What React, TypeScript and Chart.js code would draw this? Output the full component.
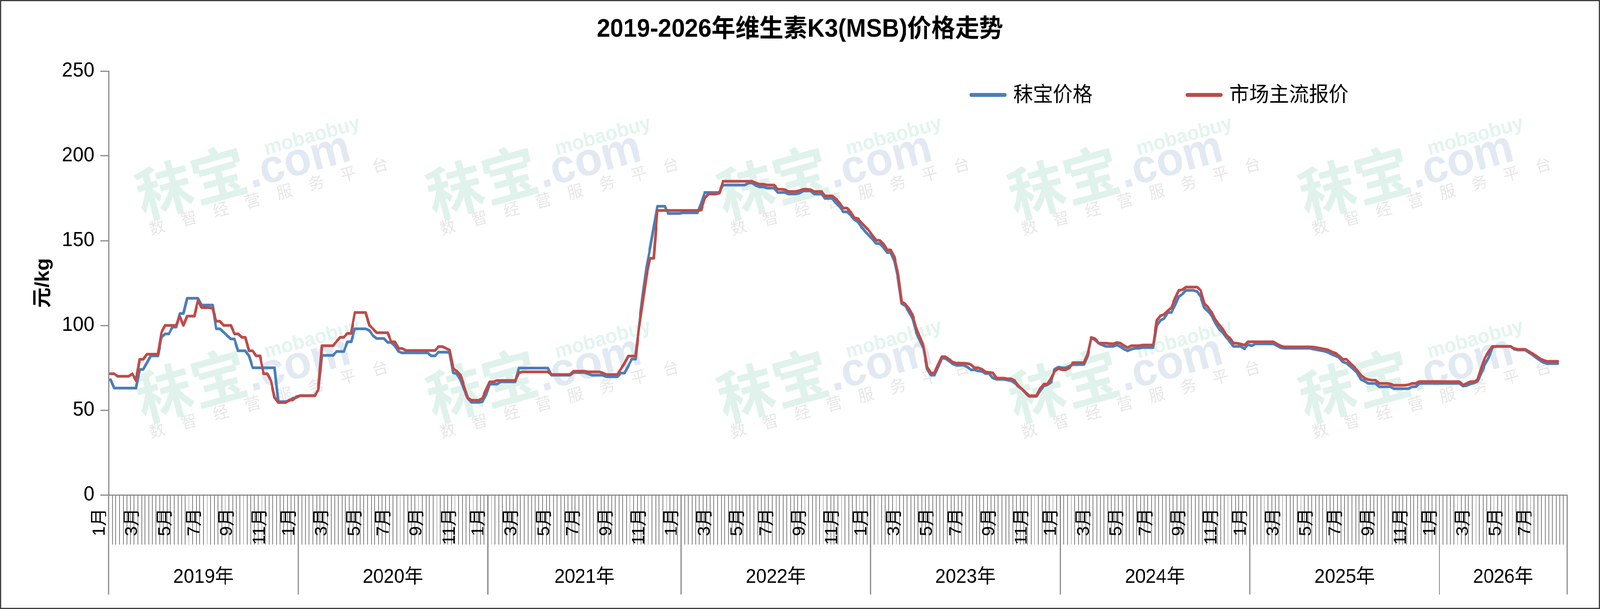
import { useEffect, useRef } from "react";
import { Chart, registerables } from "chart.js";

Chart.register(...registerables);

document.body.style.margin = "0";
document.body.style.overflow = "hidden";

const FONT = "'Liberation Sans', Arial, 'Noto Sans CJK SC', sans-serif";
const AXIS_GRAY = "#8c8c8c";
const HATCH_GRAY = "#7f7f7f";

// the picture is laid out on a 4270 x 1559 page
const PAGE_W = 4270;
const PAGE_H = 1559;
const FRAME = 3;
const CANVAS_W = PAGE_W - 2 * FRAME;
const CANVAS_H = PAGE_H - 2 * FRAME;

const TITLE = "2019-2026年维生素K3(MSB)价格走势";
const Y_TITLE = "元/kg";
const SERIES_NAMES = ["秣宝价格", "市场主流报价"];
const SERIES_COLORS = ["#4a7ebb", "#be4b48"];

const YEARS = [2019, 2020, 2021, 2022, 2023, 2024, 2025, 2026];
// weekly points per year (last year runs to late August)
const WEEKS_PER_YEAR = [52, 52, 53, 52, 52, 52, 52, 35];
const Y_TICKS = [0, 50, 100, 150, 200, 250];

// 秣宝价格 (blue), one value per week
const MOBAO_2019 = [68, 63, 63, 63, 63, 63, 63, 63, 74, 74, 78, 82, 82, 82, 93, 95, 95, 99, 99, 107, 107, 116, 116, 116, 116, 112, 112, 112, 112, 98, 98, 96, 94, 92, 92, 85, 85, 85, 82, 75, 75, 75, 75, 75, 75, 75, 55, 55, 55, 55.5, 57, 57.5];
const MOBAO_2020 = [58.5, 58.5, 58.5, 58.5, 58.5, 62, 82.3, 82.3, 82.3, 82.3, 84.6, 84.6, 84.6, 90.3, 90.3, 98, 98, 98, 98, 97, 94, 92.3, 92.3, 92.3, 90, 90, 88, 84.6, 83.8, 83.8, 83.8, 83.8, 83.8, 83.8, 83.8, 83.8, 82, 82, 84.2, 84.2, 84.2, 84, 72, 71.5, 68, 62, 57, 54.6, 54.6, 54.6, 55, 59];
const MOBAO_2021 = [65.4, 65.4, 65.4, 66.7, 66.7, 66.7, 66.7, 66.7, 74.8, 74.8, 74.8, 74.8, 74.8, 74.8, 74.8, 74.8, 74.8, 70.6, 70.6, 70.6, 70.6, 70.6, 70.6, 72.2, 72.2, 72.2, 72.2, 71.5, 70.6, 70.6, 70.6, 70.6, 69.7, 69.7, 69.7, 69.7, 71.9, 71.9, 76, 80.1, 80.1, 100, 118, 134, 145.5, 158, 170.3, 170.3, 170.3, 166, 166, 166, 166];
const MOBAO_2022 = [166.4, 166.4, 166.4, 166.4, 166.4, 172, 178.4, 178.4, 178.4, 178.4, 178.4, 182.8, 182.8, 182.8, 182.8, 182.8, 182.8, 182.8, 184, 184, 182.5, 181.7, 181.7, 181, 181, 181, 178.4, 178.4, 178.4, 177.5, 177.5, 177.5, 178, 179.3, 179.3, 179.3, 177.5, 177.5, 177.5, 174.9, 174.9, 174.9, 172.2, 170, 167, 167, 165, 162.5, 161, 158, 155.4, 153];
const MOBAO_2023 = [151, 148.3, 148.3, 146, 143, 142.9, 138, 128, 112.9, 111.5, 108, 104, 96, 91, 86.5, 74.2, 70.7, 70.7, 75.5, 80.7, 80.5, 79, 77.3, 76.5, 76.5, 76.5, 75.5, 73.8, 73.8, 73.1, 73, 71.6, 71.6, 69, 68.2, 68.2, 68.2, 67.8, 67.4, 66, 64, 62.4, 60, 58.1, 58.1, 58.1, 61.5, 64.2, 65, 66.5, 74.2, 75.4];
const MOBAO_2024 = [75, 75, 76, 76.9, 76.9, 76.9, 76.9, 82, 92.5, 91.5, 89.5, 88.5, 87.6, 87.6, 87.6, 88.5, 87.5, 86, 85, 86, 86.5, 86.5, 86.9, 86.9, 86.9, 86.9, 100, 103, 104.1, 107.6, 107.6, 112, 117, 118.4, 120.7, 120.7, 120.7, 120, 117, 110.5, 108.3, 106, 101.5, 98, 96, 93, 90.5, 87.6, 87.6, 87.6, 86.2, 88.7];
const MOBAO_2025 = [88, 89.1, 89.1, 89.1, 89.1, 89.1, 89.1, 88, 86.8, 86.5, 86.5, 86.5, 86.5, 86.5, 86.5, 86.5, 86.5, 86, 85.6, 85.2, 84.8, 84, 83, 82, 81, 78.5, 77.7, 76, 74, 71.9, 68.1, 67, 65.8, 65.8, 65.8, 63.8, 63.8, 63.8, 63.8, 62.7, 62.7, 62.7, 62.7, 62.7, 63.8, 63.8, 65.8, 65.8, 65.8, 65.8, 65.8, 65.8];
const MOBAO_2026 = [65.8, 65.8, 65.8, 65.8, 65.8, 65.8, 64.2, 64.5, 65.5, 66, 67, 72, 77, 81, 87, 87.6, 87.6, 87.6, 87.6, 87.6, 86, 85.5, 85.5, 85.5, 84, 82.7, 81, 79.5, 78.2, 77.5, 77.5, 77.5, 77.5, null, null];

// 市场主流报价 (red), one value per week
const MARKET_2019 = [71.5, 71.5, 70, 70, 70, 70, 71.5, 67.5, 80, 80, 83, 83, 83, 83, 96, 100, 100, 100, 100, 105.5, 100, 105.5, 105.5, 105.5, 115, 110.5, 110.5, 110.5, 110, 102.5, 102.5, 100, 100, 100, 95, 95, 93, 93, 85, 85, 82, 82, 71.5, 71.5, 67.5, 57.5, 54.5, 54.5, 54.5, 56, 56, 58];
const MARKET_2020 = [58.5, 58.5, 58.5, 58.5, 58.5, 62, 88, 88, 88, 88, 90.5, 93, 93, 95.3, 95.3, 107.6, 107.6, 107.6, 107.6, 100, 98, 95.7, 95.7, 95.7, 95.7, 90.3, 90.3, 86.4, 86.4, 85.2, 85.2, 85.2, 85.2, 85.2, 85.2, 85.2, 85.2, 85.2, 87.5, 87.5, 86.5, 85.5, 74.6, 73, 70.7, 64, 57.3, 55.8, 55.8, 55.8, 57, 62];
const MARKET_2021 = [66.7, 66.7, 67.5, 67.5, 67.5, 67.5, 67.5, 67.5, 72, 72.6, 72.6, 72.6, 72.6, 72.6, 72.6, 72.6, 72.6, 71, 71, 71, 71, 71, 71, 73, 73, 73, 73, 72.6, 72.6, 72.6, 72.6, 72, 71, 71, 71, 71, 74.3, 77.7, 81.9, 81.9, 81.9, 99, 114, 129, 139.6, 139.6, 167.8, 167.8, 167.8, 167.8, 167.8, 167.8, 167.8];
const MARKET_2022 = [167.8, 167.8, 167.8, 167.8, 167.8, 168, 175, 177.5, 177.5, 177.5, 178, 185, 185, 185, 185, 185, 185, 185, 185, 185, 184, 183.3, 183.3, 182.8, 182.8, 182.8, 180.3, 180.3, 180, 179, 179, 179, 179.5, 180.3, 180.3, 180, 179, 179, 179, 176.4, 176.4, 176.4, 174.6, 172, 169.2, 169.2, 167, 163.5, 163, 160.5, 158.2, 156];
const MARKET_2023 = [153, 150.2, 150.2, 148, 144.5, 144.5, 140.3, 130.7, 113.8, 112.6, 109.9, 106, 98.4, 93, 87.7, 75.4, 71.9, 71.9, 76.9, 81.5, 81.5, 80, 78.4, 77.7, 77.7, 77.7, 77.5, 76.9, 75, 75, 74.2, 72.5, 72.3, 72, 68.9, 68.9, 68.9, 68.5, 68.5, 67.4, 64.5, 62.4, 60.5, 58.5, 58.5, 58.5, 62.8, 65.4, 65.4, 69, 73.1, 74.6];
const MARKET_2024 = [73.8, 73.8, 75, 78, 78, 78, 78, 83, 92.9, 92.2, 89.5, 89.5, 89.5, 89.3, 89.1, 89.9, 89.5, 88, 86.9, 88, 88, 88, 88.4, 88.4, 88.4, 88.4, 103, 105.7, 106.5, 108.6, 110.5, 116, 120.7, 121, 122.6, 122.6, 122.6, 122.6, 120.7, 113, 110.7, 107.8, 103.4, 100.7, 98, 94.3, 92.6, 89.5, 89.5, 89, 88.4, 90.3];
const MARKET_2025 = [90.3, 90.3, 90.3, 90.3, 90.3, 90.3, 90.3, 89, 87.8, 87.3, 87.3, 87.3, 87.3, 87.3, 87.3, 87.3, 87.3, 87.2, 86.8, 86.4, 86, 85.5, 84.4, 83.6, 82, 80, 80, 77.8, 75.7, 73.4, 70.5, 68.8, 68, 67.7, 67.7, 65.8, 65.8, 65.8, 65.5, 64.7, 64.7, 64.7, 64.7, 65, 65.8, 65.8, 66.9, 66.9, 66.9, 66.9, 66.9, 66.9];
const MARKET_2026 = [66.8, 66.8, 66.8, 66.8, 66.8, 66.8, 64.8, 65.8, 66.8, 66.8, 68, 75, 81, 84.5, 87.6, 87.6, 87.6, 87.6, 87.6, 87.6, 86.4, 85.9, 85.9, 85.9, 84.6, 83.5, 82, 80.5, 79.5, 78.8, 78.8, 78.8, 78.8, null, null];

const MOBAO_PRICE = [...MOBAO_2019, ...MOBAO_2020, ...MOBAO_2021, ...MOBAO_2022, ...MOBAO_2023, ...MOBAO_2024, ...MOBAO_2025, ...MOBAO_2026];
const MARKET_PRICE = [...MARKET_2019, ...MARKET_2020, ...MARKET_2021, ...MARKET_2022, ...MARKET_2023, ...MARKET_2024, ...MARKET_2025, ...MARKET_2026];

// week categories: year + month of each weekly point
const WEEKS = YEARS.flatMap((year, yi) =>
  Array.from({ length: WEEKS_PER_YEAR[yi] }, (_, k) => {
    const d = new Date(year, 0, 1 + 7 * k);
    return { year, month: d.getMonth() + 1, week: k + 1 };
  })
);
const LABELS = WEEKS.map((w) => `${w.year}年第${w.week}周`);

// watermark grid and legend slots (canvas px)
const MARK_COLUMNS = [378, 1154, 1930, 2706, 3482];
const MARK_ROWS = [557, 1077];
const LEGEND_X = [2584, 3161];

const watermarkPlugin = {
  id: "watermark",
  beforeDatasetsDraw(chart: Chart) {
    const ctx = chart.ctx;
    MARK_ROWS.forEach((y) =>
      MARK_COLUMNS.forEach((x) => {
        ctx.save();
        ctx.translate(x, y);
        ctx.rotate((-15 * Math.PI) / 180);
        ctx.textAlign = "left";
        ctx.textBaseline = "alphabetic";
        ctx.fillStyle = "#e0f2ec";
        ctx.font = `bold 150px ${FONT}`;
        ctx.fillText("秣宝", 0, 0);
        ctx.fillStyle = "#e2e9f2";
        ctx.font = `bold 120px ${FONT}`;
        ctx.fillText(".com", 300, 0);
        ctx.fillStyle = "#e3f4ee";
        ctx.font = `bold 52px ${FONT}`;
        ctx.fillText("mobaobuy", 360, -72);
        ctx.fillStyle = "#e7e7e7";
        ctx.font = `42px ${FONT}`;
        "数智经营服务平台".split("").forEach((c, k) => ctx.fillText(c, 10 + k * 88, 46));
        ctx.restore();
      })
    );
  },
};

const titlePlugin = {
  id: "pageTitle",
  afterDraw(chart: Chart) {
    const ctx = chart.ctx;
    ctx.save();
    ctx.fillStyle = "#000";
    ctx.font = `bold 64px ${FONT}`;
    ctx.textAlign = "center";
    ctx.textBaseline = "middle";
    ctx.fillText(TITLE, chart.width / 2, 73);
    ctx.restore();
  },
};

const axisBandPlugin = {
  id: "axisBand",
  afterDraw(chart: Chart) {
    const ctx = chart.ctx;
    const x = chart.scales.x;
    const bottom = chart.chartArea.bottom;
    const half = (x.getPixelForValue(1) - x.getPixelForValue(0)) / 2;
    ctx.save();
    ctx.fillStyle = "#000";
    ctx.font = `46px ${FONT}`;
    ctx.textAlign = "right";
    ctx.textBaseline = "middle";
    WEEKS.forEach((w, i) => {
      const prev = WEEKS[i - 1];
      if (w.month % 2 === 1 && (!prev || prev.month !== w.month)) {
        ctx.save();
        ctx.translate(x.getPixelForValue(i) - 29, bottom + 34);
        ctx.rotate(-Math.PI / 2);
        ctx.fillText(`${w.month}月`, 0, 0);
        ctx.restore();
      }
    });
    ctx.strokeStyle = AXIS_GRAY;
    ctx.lineWidth = 3;
    ctx.font = `50px ${FONT}`;
    ctx.textAlign = "center";
    let start = 0;
    YEARS.forEach((year, yi) => {
      const n = WEEKS_PER_YEAR[yi];
      const left = x.getPixelForValue(start) - half;
      const right = x.getPixelForValue(start + n - 1) + half;
      [left, right].forEach((px) => {
        ctx.beginPath();
        ctx.moveTo(px, bottom);
        ctx.lineTo(px, bottom + 255);
        ctx.stroke();
      });
      ctx.fillText(`${year}年`, (left + right) / 2, bottom + 211);
      start += n;
    });
    ctx.restore();
  },
};

const legendPlugin = {
  id: "sideLegend",
  afterDraw(chart: Chart) {
    const ctx = chart.ctx;
    ctx.save();
    ctx.font = `53px ${FONT}`;
    ctx.textAlign = "left";
    ctx.textBaseline = "middle";
    chart.data.datasets.forEach((ds, i) => {
      const x0 = LEGEND_X[i];
      ctx.strokeStyle = ds.borderColor as string;
      ctx.lineWidth = 10;
      ctx.lineCap = "round";
      ctx.beginPath();
      ctx.moveTo(x0 + 5, 240);
      ctx.lineTo(x0 + 94, 240);
      ctx.stroke();
      ctx.fillStyle = "#000";
      ctx.fillText(ds.label as string, x0 + 117, 242);
    });
    ctx.restore();
  },
};

export default function App() {
  const canvasRef = useRef<HTMLCanvasElement>(null);

  // fit the 4270 x 1559 layout into whatever viewport we get
  const vw = window.innerWidth || PAGE_W;
  const vh = window.innerHeight || PAGE_H;

  useEffect(() => {
    const canvas = canvasRef.current;
    if (!canvas) return;

    const chart = new Chart(canvas, {
      type: "line",
      data: {
        labels: LABELS,
        datasets: [
          {
            label: SERIES_NAMES[0],
            data: MOBAO_PRICE,
            borderColor: SERIES_COLORS[0],
            backgroundColor: SERIES_COLORS[0],
            borderWidth: 7,
            pointRadius: 0,
            tension: 0,
            borderJoinStyle: "round",
            borderCapStyle: "round",
            order: 2,
          },
          {
            label: SERIES_NAMES[1],
            data: MARKET_PRICE,
            borderColor: SERIES_COLORS[1],
            backgroundColor: SERIES_COLORS[1],
            borderWidth: 7,
            pointRadius: 0,
            tension: 0,
            borderJoinStyle: "round",
            borderCapStyle: "round",
            order: 1,
          },
        ],
      },
      options: {
        responsive: false,
        animation: false,
        devicePixelRatio: 1,
        layout: { padding: { left: 0, right: 85, top: 179, bottom: 0 } },
        plugins: {
          legend: { display: false },
          tooltip: { enabled: false },
          title: { display: false },
        },
        scales: {
          x: {
            type: "category",
            offset: true,
            grid: {
              display: true,
              offset: true,
              drawOnChartArea: false,
              drawTicks: true,
              tickLength: 127,
              color: HATCH_GRAY,
              lineWidth: 2,
            },
            border: { display: true, color: AXIS_GRAY, width: 3 },
            ticks: { display: false, autoSkip: false },
            afterFit: (scale) => {
              scale.height = 289;
            },
          },
          y: {
            min: 0,
            max: 250,
            afterBuildTicks: (scale) => {
              scale.ticks = Y_TICKS.map((value) => ({ value }));
            },
            grid: {
              drawOnChartArea: false,
              drawTicks: true,
              tickLength: 22,
              color: AXIS_GRAY,
              lineWidth: 3,
            },
            border: { display: true, color: AXIS_GRAY, width: 3 },
            ticks: { color: "#000", font: { family: FONT, size: 52 }, padding: 16 },
            title: {
              display: true,
              text: Y_TITLE,
              color: "#000",
              font: { family: FONT, size: 52, weight: "bold" },
              padding: { top: 81, bottom: 0 },
            },
            afterFit: (scale) => {
              scale.width = 287;
            },
          },
        },
      },
      plugins: [watermarkPlugin, axisBandPlugin, legendPlugin, titlePlugin],
    });

    return () => {
      chart.destroy();
    };
  }, []);

  return (
    <div style={{ width: vw, height: vh, overflow: "hidden", background: "#fff" }}>
      <div
        style={{
          width: PAGE_W,
          height: PAGE_H,
          boxSizing: "border-box",
          border: `${FRAME}px solid #404040`,
          background: "#fff",
          transform: `scale(${vw / PAGE_W}, ${vh / PAGE_H})`,
          transformOrigin: "0 0",
        }}
      >
        <canvas ref={canvasRef} width={CANVAS_W} height={CANVAS_H} style={{ display: "block" }} />
      </div>
    </div>
  );
}
